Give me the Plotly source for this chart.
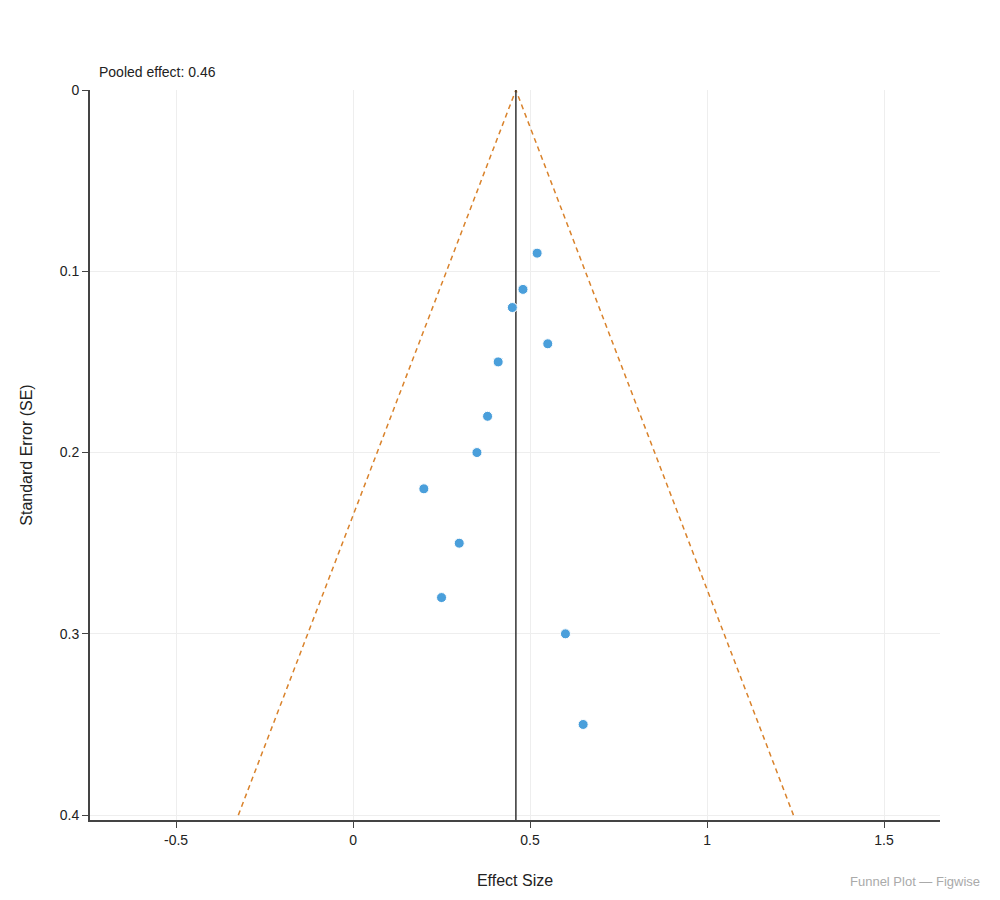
import plotly.graph_objects as go

effect = [0.52, 0.48, 0.45, 0.55, 0.41, 0.38, 0.35, 0.20, 0.30, 0.25, 0.60, 0.65]
se = [0.09, 0.11, 0.12, 0.14, 0.15, 0.18, 0.20, 0.22, 0.25, 0.28, 0.30, 0.35]
pooled = 0.46
se_max = 0.4
x_ticks = [-0.5, 0, 0.5, 1, 1.5]
x_tick_labels = ["-0.5", "0", "0.5", "1", "1.5"]
y_ticks = [0, 0.1, 0.2, 0.3, 0.4]
y_tick_labels = ["0", "0.1", "0.2", "0.3", "0.4"]

font = "Liberation Sans, Arial, sans-serif"

fig = go.Figure()

# funnel bounds
fig.add_trace(go.Scatter(
    x=[pooled - 1.96 * se_max, pooled, pooled + 1.96 * se_max],
    y=[se_max, 0, se_max],
    mode="lines",
    line=dict(color="#d9822b", width=1.5, dash="5px,4px"),
    hoverinfo="skip", showlegend=False,
))
# pooled effect line
fig.add_trace(go.Scatter(
    x=[pooled, pooled], y=[0, 0.4027],
    mode="lines", line=dict(color="#333333", width=1.5),
    hoverinfo="skip", showlegend=False,
))
# studies
fig.add_trace(go.Scatter(
    x=effect, y=se, mode="markers",
    marker=dict(color="#4a9fdb", size=10, line=dict(color="white", width=1)),
    showlegend=False,
))

fig.update_layout(
    width=1000, height=900,
    margin=dict(l=82, r=68, t=82, b=88),
    paper_bgcolor="white", plot_bgcolor="white",
    font=dict(family=font, size=14, color="#222"),
    xaxis=dict(
        range=[-0.743, 1.658], tickvals=x_ticks, ticktext=x_tick_labels,
        showgrid=True, gridcolor="#eeeeee", gridwidth=1, zeroline=False,
        showline=True, linecolor="#444", linewidth=2,
        ticks="outside", ticklen=6, tickcolor="#444",
        title=dict(text="Effect Size", font=dict(size=16), standoff=28),
    ),
    yaxis=dict(
        range=[0.4027, 0], tickvals=y_ticks, ticktext=y_tick_labels,
        showgrid=True, gridcolor="#eeeeee", gridwidth=1, zeroline=False,
        showline=True, linecolor="#444", linewidth=2,
        ticks="outside", ticklen=6, tickcolor="#444",
        title=dict(text="Standard Error (SE)", font=dict(size=16), standoff=23),
    ),
    annotations=[
        dict(text="Pooled effect: %.2f" % pooled, x=0, y=1, xref="paper", yref="paper",
             xanchor="left", yanchor="bottom", xshift=7, yshift=8, showarrow=False,
             font=dict(size=14, color="#222")),
        dict(text="Funnel Plot — Figwise", x=1, y=0, xref="paper", yref="paper",
             xanchor="right", yanchor="top", xshift=42, yshift=-52, showarrow=False,
             font=dict(size=13, color="#aaaaaa")),
    ],
)

fig.write_html("out.html")
